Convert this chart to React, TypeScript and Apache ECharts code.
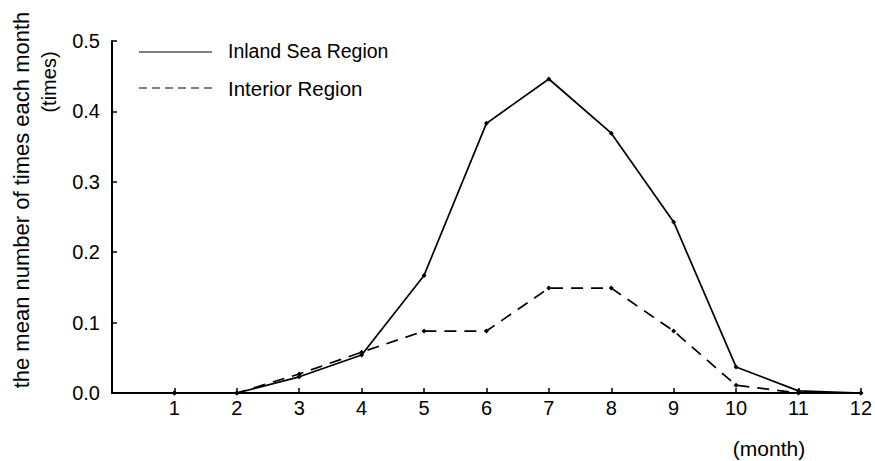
import React, { useEffect, useRef } from "react";
import * as echarts from "echarts";

const months = [1, 2, 3, 4, 5, 6, 7, 8, 9, 10, 11, 12];
const inlandSea = [0, 0, 0.023, 0.054, 0.167, 0.383, 0.446, 0.369, 0.243, 0.037, 0.003, 0];
const interior = [0, 0, 0.027, 0.058, 0.088, 0.088, 0.149, 0.149, 0.088, 0.011, 0, 0];
const seriesNames = ["Inland Sea Region", "Interior Region"];
const yTitle = "the mean number of times each month";
const yUnit = "(times)";
const xUnit = "(month)";

const FONT = "'Liberation Sans', Arial, sans-serif";

export default function App() {
  const ref = useRef<HTMLDivElement>(null);
  useEffect(() => {
    if (!ref.current) return;
    const chart = echarts.init(ref.current, undefined, { renderer: "svg" });
    const pair = (arr: number[]) => months.map((m, i) => [m, arr[i]]);
    const txt = (text: string, x: number, y: number, size: number, rot = 0, align = "left") => ({
      type: "text",
      x,
      y,
      rotation: rot,
      style: {
        text,
        fontSize: size,
        fontFamily: FONT,
        fill: "#000",
        align,
        verticalAlign: "middle",
      },
    });
    chart.setOption({
      animation: false,
      backgroundColor: "#ffffff",
      textStyle: { fontFamily: FONT, color: "#000" },
      grid: { left: 112, right: 5, top: 41, bottom: 68 },
      xAxis: {
        type: "value",
        min: 0,
        max: 12,
        interval: 1,
        splitLine: { show: false },
        axisLine: { lineStyle: { color: "#000", width: 2 } },
        axisTick: { inside: true, length: 5, lineStyle: { color: "#000", width: 1.5 } },
        axisLabel: {
          color: "#000",
          fontSize: 20,
          fontFamily: FONT,
          margin: 5,
          formatter: (v: number) => (v === 0 ? "" : String(v)),
        },
      },
      yAxis: {
        type: "value",
        min: 0,
        max: 0.5,
        interval: 0.1,
        splitLine: { show: false },
        axisLine: { show: true, lineStyle: { color: "#000", width: 2 } },
        axisTick: { show: true, inside: true, length: 5, lineStyle: { color: "#000", width: 1.5 } },
        axisLabel: {
          color: "#000",
          fontSize: 20,
          fontFamily: FONT,
          margin: 12,
          formatter: (v: number) => v.toFixed(1),
        },
      },
      graphic: [
        txt(yTitle, 21, 200, 22, Math.PI / 2, "center"),
        txt(yUnit, 49, 82, 20, Math.PI / 2, "center"),
        txt(xUnit, 769, 448, 21, 0, "center"),
        {
          type: "line",
          shape: { x1: 139, y1: 52, x2: 212, y2: 52 },
          style: { stroke: "#000", lineWidth: 1.2 },
        },
        {
          type: "line",
          shape: { x1: 139, y1: 88, x2: 212, y2: 88 },
          style: { stroke: "#000", lineWidth: 1.2, lineDash: [8, 5] },
        },
        txt(seriesNames[0], 228, 51, 19.5),
        txt(seriesNames[1], 228, 88, 20.5),
      ],
      series: [
        {
          name: seriesNames[0],
          type: "line",
          data: pair(inlandSea),
          symbol: "diamond",
          symbolSize: 5,
          itemStyle: { color: "#000" },
          lineStyle: { color: "#000", width: 1.7 },
        },
        {
          name: seriesNames[1],
          type: "line",
          data: pair(interior),
          symbol: "diamond",
          symbolSize: 5,
          itemStyle: { color: "#000" },
          lineStyle: { color: "#000", width: 1.7, type: [12, 8] },
        },
      ],
    });
    return () => chart.dispose();
  }, []);
  return (
    <div
      ref={ref}
      style={{ position: "fixed", left: 0, top: 0, width: 875, height: 461, background: "#fff" }}
    />
  );
}
